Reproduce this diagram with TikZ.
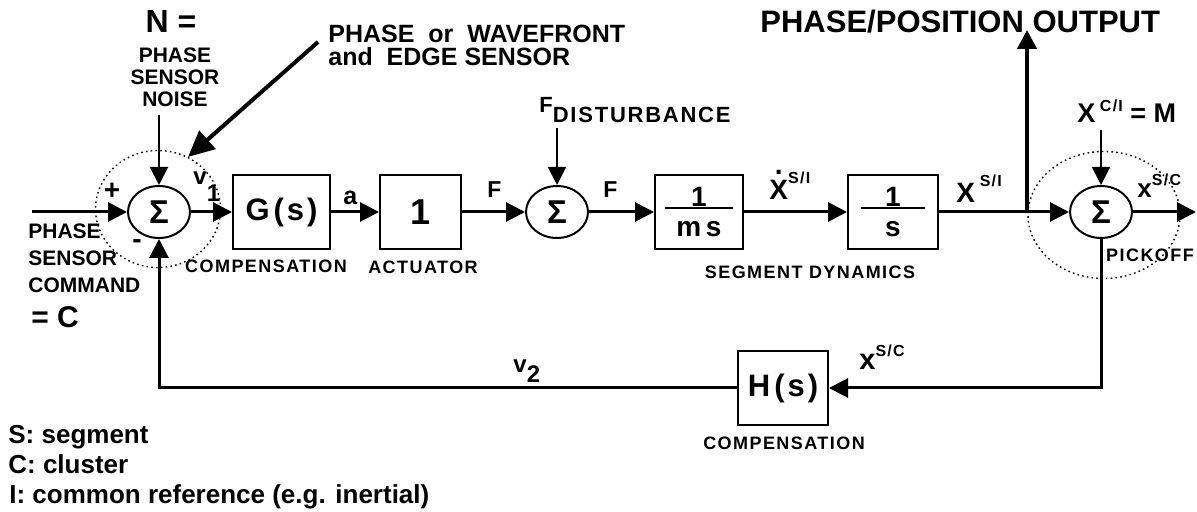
\documentclass[tikz,border=0pt]{standalone}
\usepackage{fontspec}
\setmainfont{Liberation Sans}
\newfontfamily\widefont{Liberation Sans}[LetterSpace=8]
\usepackage{tikz}
\usetikzlibrary{arrows.meta, positioning, calc, shapes.geometric}
\newcommand{\fsize}[2]{\fontsize{#1}{#2}\selectfont}
\newcommand{\dotX}{\ooalign{X\cr\hidewidth\raisebox{0.92em}{.}\hidewidth\cr}}
\tikzset{
	sumnode/.style={draw, ellipse, line width=1pt, inner sep=0pt,
		minimum width=31pt, minimum height=26pt, font=\fsize{16.5}{16.5}\bfseries},
	blockbox/.style={draw, line width=1pt, minimum height=37pt, inner sep=1pt,
		align=center, font=\fsize{15.5}{15.5}\bfseries},
	ringline/.style={draw, ellipse, line width=0.7pt, dash pattern=on 0.8pt off 1.6pt},
	sigarr/.style={-{Triangle[length=9.5pt,width=9.5pt]}, line width=1.5pt},
	injarr/.style={-{Triangle[length=9pt,width=9pt]}, line width=1pt},
	boxtag/.style={font=\fsize{9}{11}\widefont\bfseries, inner sep=0pt},
	varlbl/.style={font=\fsize{14}{16}\bfseries, inner sep=0pt, anchor=base west},
	textlbl/.style={font=\fsize{10.5}{11}\bfseries, inner sep=0pt},
}

\begin{document}
\begin{tikzpicture}[x=0.5pt, y=-0.5pt]
	\useasboundingbox (0,0) rectangle (1197,512);

	% sensor and pickoff regions
	\node[ringline, minimum width=62.5pt, minimum height=58.5pt] (ringA) at (158,209) {};
	\node[ringline, minimum width=76pt, minimum height=63.5pt] (ringC) at (1104,215) {};

	% forward path
	\node[sumnode] (sumA) at (159,212) {Σ};
	\node[blockbox, minimum width=48.5pt] (boxG) at (281.5,212)
		{G\hspace{2pt}(\hspace{1.5pt}s\hspace{1.5pt})};
	\node[blockbox, minimum width=40.5pt, font=\fsize{18}{18}\bfseries] (boxAct) at (420.5,212) {1};
	\node[sumnode] (sumB) at (557,212) {Σ};
	\node[blockbox, minimum width=44pt, font=\fsize{14}{14}\bfseries] (boxMs) at (699,212)
		{1\\[-12.5pt]\rule{34pt}{1.2pt}\\[-0.5pt]m\,s};
	\node[blockbox, minimum width=45pt, font=\fsize{14}{14}\bfseries] (boxS) at (893,212)
		{1\\[-12.5pt]\rule{32pt}{1.2pt}\\[-0.5pt]s};
	\node[sumnode] (sumC) at (1101,212) {Σ};
	\node[blockbox, minimum width=45pt] (boxH) at (783,388)
		{H\hspace{2pt}(\hspace{1.5pt}s\hspace{1.5pt})};

	\coordinate (cmdin) at (32,212);
	\coordinate (tap) at (1027,212);
	\coordinate (phaseout) at (1027,30);
	\coordinate (xout) at (1196,212);
	\draw[sigarr] (cmdin) -- (sumA);
	\draw[sigarr] (sumA) -- (boxG);
	\draw[sigarr] (boxG) -- (boxAct);
	\draw[sigarr] (boxAct) -- (sumB);
	\draw[sigarr] (sumB) -- (boxMs);
	\draw[sigarr] (boxMs) -- (boxS);
	\draw[line width=1.5pt] (boxS) -- (tap);
	\draw[sigarr] (tap) -- (sumC);
	\draw[sigarr, line width=2pt] (tap) -- (phaseout);
	\draw[sigarr] (sumC) -- (xout);

	% feedback loop
	\draw[sigarr] (sumC.south) |- (boxH.east);
	\draw[sigarr] (boxH.west) -| (sumA.south);

	% injected signals
	\coordinate (noisein) at (159,115);
	\coordinate (distin) at (557,128);
	\coordinate (clusterin) at (1101,130);
	\coordinate (sensortail) at (318,42);
	\draw[injarr] (noisein) -- (sumA);
	\draw[injarr] (distin) -- (sumB);
	\draw[injarr] (clusterin) -- (sumC);
	\draw[-{Triangle[length=13pt,width=12pt]}, line width=2pt] (sensortail) -- (ringA.60);

	% labels
	\node[font=\fsize{16}{16}\bfseries, anchor=base, inner sep=0pt] (nlbl) at (171,33) {N =};
	\node[textlbl, align=center, anchor=north] (noiselbl) at (175,47) {PHASE\\SENSOR\\NOISE};
	\node[font=\fsize{12.5}{11.5}\bfseries, align=left, anchor=north west, inner sep=0pt]
		(sensorlbl) at (328,25) {PHASE\ \ or\ \ WAVEFRONT\\and\ \ EDGE SENSOR};
	\node[textlbl, font=\fsize{10.5}{13.5}\bfseries, align=left, anchor=north west]
		(cmdlbl) at (28,223) {PHASE\\SENSOR\\COMMAND};
	\node[varlbl, font=\fsize{15}{15}\bfseries] (clbl) at (31,328) {= C};
	\node[font=\fsize{14}{14}\bfseries, inner sep=0pt] (plus) at (112,191) {+};
	\node[font=\fsize{14}{14}\bfseries, inner sep=0pt] (minus) at (137,244) {-};
	\node[varlbl, font=\fsize{12}{12}\bfseries] (vone) at (193,185) {v\raisebox{-8.5pt}{1}};
	\node[varlbl, font=\fsize{12.5}{12.5}\bfseries] (albl) at (343,205) {a};
	\node[varlbl, font=\fsize{11.5}{11.5}\bfseries] (fone) at (487,198) {F};
	\node[varlbl, font=\fsize{11.5}{11.5}\bfseries] (ftwo) at (603,198) {F};
	\node[varlbl, font=\fsize{11}{11}\bfseries] (fdist) at (539,113)
		{F\raisebox{-5pt}{\widefont DISTURBANCE}};
	\node[varlbl] (xdot) at (769,200) {\dotX\raisebox{8pt}{\fsize{8}{8}\widefont S/I}};
	\node[varlbl] (xsi) at (956,203) {X\,\raisebox{8pt}{\fsize{8}{8}\widefont S/I}};
	\node[varlbl, font=\fsize{15.5}{15.5}\bfseries] (outlbl) at (760,33) {PHASE/POSITION OUTPUT};
	\node[varlbl, font=\fsize{13.5}{13.5}\bfseries] (mlbl) at (1077,123)
		{X\,\raisebox{5.5pt}{\fsize{8}{8}\widefont C/I} = M};
	\node[varlbl, font=\fsize{13}{13}\bfseries] (xscout) at (1137,198)
		{x\raisebox{6pt}{\fsize{8}{8}\widefont S/C}};
	\node[varlbl, font=\fsize{14.5}{14.5}\bfseries] (xscfb) at (859,370)
		{x\raisebox{6.5pt}{\fsize{8}{8}\widefont S/C}};
	\node[varlbl, font=\fsize{12}{12}\bfseries] (vtwo) at (513,372) {v\raisebox{-5.5pt}{2}};

	\node[boxtag] (cmpG) at (266,266) {COMPENSATION};
	\node[boxtag] (actlbl) at (423,267) {ACTUATOR};
	\node[boxtag] (seglbl) at (810,272) {SEGMENT DYNAMICS};
	\node[boxtag] (pickoff) at (1150,255) {PICKOFF};
	\node[boxtag] (cmpH) at (784,443) {COMPENSATION};

	% legend
	\node[varlbl, font=\fsize{13}{13}\bfseries] (legS) at (8,443) {S: segment};
	\node[varlbl, font=\fsize{13}{13}\bfseries] (legC) at (8,473) {C: cluster};
	\node[varlbl, font=\fsize{13}{13}\bfseries] (legI) at (9,503) {I: common reference (e.g. inertial)};
\end{tikzpicture}
\end{document}
